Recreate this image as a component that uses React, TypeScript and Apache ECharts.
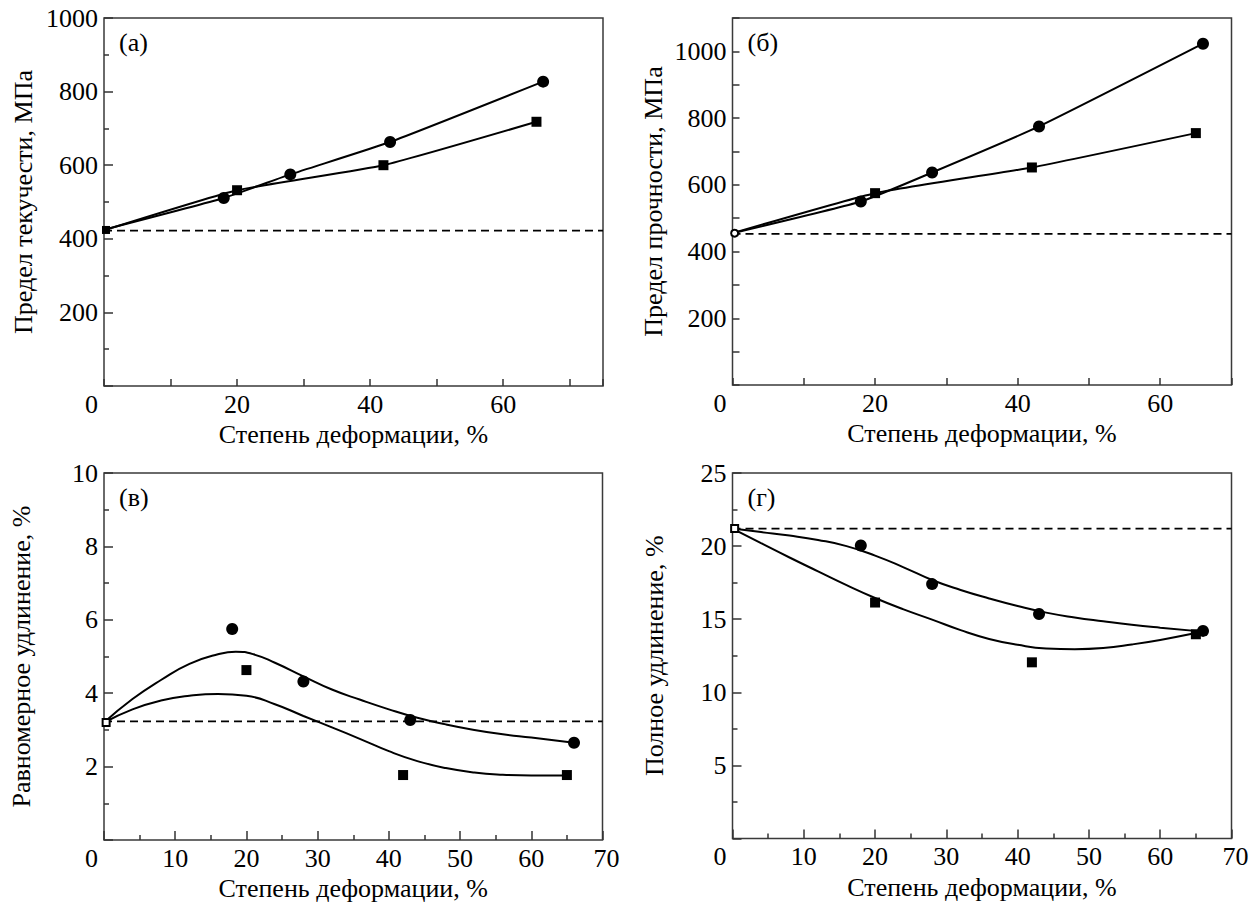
import React, { useEffect, useRef } from 'react';
import * as echarts from 'echarts';

const FONT = 'Liberation Serif';

// ---- Data ----
const X_NAME = 'Степень деформации, %';
const Y_NAMES = ['Предел текучести, МПа', 'Предел прочности, МПа', 'Равномерное удлинение, %', 'Полное удлинение, %'];
const PANEL_LABELS = ['(а)', '(б)', '(в)', '(г)'];

// (а) yield strength
const aCircX = [0, 18, 28, 43, 66];
const aCircY = [425, 511, 575, 663, 827];
const aSqX = [0, 20, 42, 65];
const aSqY = [423, 532, 600, 718];
const aInit = 424;
const aBase = 422;

// (б) ultimate strength
const bCircX = [0, 18, 28, 43, 66];
const bCircY = [455, 550, 637, 775, 1023];
const bSqX = [0, 20, 42, 65];
const bSqY = [455, 575, 652, 755];
const bInit = 455;
const bBase = 453;

// (в) uniform elongation
const vCircX = [18, 28, 43, 66];
const vCircY = [5.75, 4.32, 3.27, 2.65];
const vSqX = [20, 42, 65];
const vSqY = [4.63, 1.77, 1.77];
const vInit = 3.2;
const vBase = 3.23;
const vFitUpX = [0, 4, 8, 12, 16, 18.5, 21, 24, 28, 32, 36, 40, 44, 48, 52, 56, 60, 66];
const vFitUpY = [3.2, 3.84, 4.36, 4.8, 5.06, 5.13, 5.06, 4.83, 4.46, 4.1, 3.82, 3.56, 3.33, 3.15, 3.0, 2.88, 2.79, 2.65];
const vFitLoX = [0, 4, 8, 12, 16, 20, 24, 28, 32, 36, 40, 44, 48, 52, 56, 60, 65];
const vFitLoY = [3.2, 3.56, 3.8, 3.93, 3.98, 3.93, 3.7, 3.38, 3.07, 2.75, 2.42, 2.15, 1.96, 1.84, 1.78, 1.76, 1.76];

// (г) total elongation
const gCircX = [18, 28, 43, 66];
const gCircY = [20.04, 17.4, 15.36, 14.2];
const gSqX = [20, 42, 65];
const gSqY = [16.14, 12.05, 13.97];
const gInit = 21.2;
const gBase = 21.2;
const gFitUpX = [0, 4, 8, 12, 16, 20, 24, 28, 32, 36, 40, 44, 48, 52, 56, 60, 66];
const gFitUpY = [21.2, 20.96, 20.72, 20.42, 20.0, 19.35, 18.55, 17.68, 17.0, 16.42, 15.9, 15.45, 15.12, 14.86, 14.62, 14.42, 14.15];
const gFitLoX = [0, 4, 8, 12, 16, 20, 24, 28, 32, 36, 40, 44, 48, 52, 56, 60, 65];
const gFitLoY = [21.2, 20.2, 19.22, 18.27, 17.33, 16.45, 15.67, 14.97, 14.25, 13.65, 13.25, 13.0, 12.95, 13.03, 13.27, 13.58, 14.05];

// axis ranges and tick labels
const xMax = [75, 70, 70, 70];
const yMax = [1000, 1100, 10, 25];
const xLabelStep = [20, 20, 10, 10];
const yLabelStep = [200, 200, 2, 5];

const zip = (xs: number[], ys: number[]) => xs.map((x, i) => [x, ys[i]]);

const TICK = '#333';

function makeX(gi: number, max: number, minor: boolean) {
  return {
    type: 'value', gridIndex: gi, min: 0, max, interval: 10,
    axisLine: { show: false },
    axisLabel: { show: false },
    axisTick: { show: true, inside: true, length: minor ? 9 : 7, lineStyle: { color: TICK, width: 1.5 } },
    minorTick: { show: minor, splitNumber: 2, length: 5, lineStyle: { color: TICK, width: 1.5 } },
    splitLine: { show: false },
    minorSplitLine: { show: false },
  };
}

function makeY(gi: number, max: number, interval: number, minor: boolean) {
  return {
    type: 'value', gridIndex: gi, min: 0, max, interval,
    axisLine: { show: false },
    axisLabel: { show: false },
    axisTick: { show: true, inside: true, length: minor ? 9 : 7, lineStyle: { color: TICK, width: 1.5 } },
    minorTick: { show: minor, splitNumber: 2, length: 5, lineStyle: { color: TICK, width: 1.5 } },
    splitLine: { show: false },
    minorSplitLine: { show: false },
  };
}

function baseLine(gi: number, y: number, max: number) {
  return {
    type: 'line', xAxisIndex: gi, yAxisIndex: gi, data: [[0, y], [max, y]],
    symbol: 'none', silent: true, z: 1,
    lineStyle: { color: '#000', width: 1.8, type: [8, 5] },
  };
}

function dataLine(gi: number, data: number[][], symbol: string, size: number, smooth: number | boolean) {
  return {
    type: 'line', xAxisIndex: gi, yAxisIndex: gi,
    data: data.map((d, i) => (i === 0 ? { value: d, symbol: 'none' } : d)),
    symbol, symbolSize: size, smooth,
    showAllSymbol: true, clip: false, z: 3,
    itemStyle: { color: '#000', opacity: 1 },
    lineStyle: { color: '#000', width: 2 },
  };
}

function scatter(gi: number, data: number[][], symbol: string, size: number) {
  return {
    type: 'scatter', xAxisIndex: gi, yAxisIndex: gi, data, symbol, symbolSize: size, clip: false, z: 4,
    itemStyle: { color: '#000', opacity: 1 },
  };
}

function initPoint(gi: number, y: number, symbol: string, size: number) {
  return {
    type: 'scatter', xAxisIndex: gi, yAxisIndex: gi, data: [[0.3, y]], symbol, symbolSize: size, clip: false, z: 5,
    itemStyle: { color: '#000', borderWidth: 1.5, opacity: 1 },
  };
}

function fitLine(gi: number, data: number[][]) {
  return {
    type: 'line', xAxisIndex: gi, yAxisIndex: gi, data, symbol: 'none', smooth: 0.5, z: 2,
    lineStyle: { color: '#000', width: 2 },
  };
}

let measureCtx: CanvasRenderingContext2D | null = null;
function textWidth(text: string, size: number) {
  if (!measureCtx) measureCtx = document.createElement('canvas').getContext('2d');
  if (!measureCtx) return text.length * size * 0.5;
  measureCtx.font = `${size}px "${FONT}"`;
  return measureCtx.measureText(text).width;
}

const SIZE = 26;
const HALF = SIZE / 2;

export default function App() {
  const ref = useRef<HTMLDivElement>(null);
  useEffect(() => {
    if (!ref.current) return;
    const grids = [
      { left: 104, top: 18, width: 499, height: 368 },
      { left: 732.5, top: 18, width: 499, height: 367 },
      { left: 104, top: 473, width: 498.5, height: 367 },
      { left: 732.5, top: 473, width: 499, height: 365.5 },
    ].map((g) => ({ ...g, show: true, borderColor: '#3a3a3a', borderWidth: 1.5, backgroundColor: 'transparent', containLabel: false }));

    const option: any = {
      animation: false,
      backgroundColor: '#fff',
      grid: grids,
      xAxis: [makeX(0, xMax[0], false), makeX(1, xMax[1], false), makeX(2, xMax[2], true), makeX(3, xMax[3], true)],
      yAxis: [
        makeY(0, yMax[0], 200, true),
        makeY(1, yMax[1], 100, false),
        makeY(2, yMax[2], 2, true),
        makeY(3, yMax[3], 5, true),
      ],
      series: [
        baseLine(0, aBase, xMax[0]),
        dataLine(0, zip(aCircX, aCircY), 'circle', 12, 0.15),
        dataLine(0, zip(aSqX, aSqY), 'rect', 10, 0.15),
        initPoint(0, aInit, 'rect', 8),

        baseLine(1, bBase, xMax[1]),
        dataLine(1, zip(bCircX, bCircY), 'circle', 12, 0.15),
        dataLine(1, zip(bSqX, bSqY), 'rect', 10, 0.15),
        initPoint(1, bInit, 'emptyCircle', 7),

        baseLine(2, vBase, xMax[2]),
        fitLine(2, zip(vFitUpX, vFitUpY)),
        fitLine(2, zip(vFitLoX, vFitLoY)),
        scatter(2, zip(vCircX, vCircY), 'circle', 12),
        scatter(2, zip(vSqX, vSqY), 'rect', 10),
        initPoint(2, vInit, 'emptyRect', 7),

        baseLine(3, gBase, xMax[3]),
        fitLine(3, zip(gFitUpX, gFitUpY)),
        fitLine(3, zip(gFitLoX, gFitLoY)),
        scatter(3, zip(gCircX, gCircY), 'circle', 12),
        scatter(3, zip(gSqX, gSqY), 'rect', 10),
        initPoint(3, gInit, 'emptyRect', 7),
      ],
    };

    // 1) lay out once to read the axes' scales
    const probe = echarts.init(ref.current, undefined, { renderer: 'svg' });
    probe.setOption(option);
    const yNameOffset = [81, 79, 82.5, 78];
    const g: any[] = [];
    const st = (text: string) => ({ text, fontFamily: FONT, fontSize: SIZE, fill: '#000' });
    for (let gi = 0; gi < 4; gi++) {
      const px = (x: number, y: number) => probe.convertToPixel({ gridIndex: gi } as any, [x, y]) as number[];
      for (let v = 0; v <= xMax[gi]; v += xLabelStep[gi]) {
        const [x, y] = px(v, 0);
        const dx = v === 0 ? -12.5 : v === xMax[gi] ? 4 : 0;
        const s = String(v);
        g.push({ type: 'text', left: x + dx - textWidth(s, SIZE) / 2, top: y + 18 - HALF, style: st(s) });
      }
      for (let v = yLabelStep[gi]; v <= yMax[gi]; v += yLabelStep[gi]) {
        const [x, y] = px(0, v);
        const s = String(v);
        g.push({ type: 'text', left: x - 6 - textWidth(s, SIZE), top: y - HALF, style: st(s) });
      }
      const [cx, by] = px(xMax[gi] / 2, 0);
      g.push({ type: 'text', left: cx - textWidth(X_NAME, SIZE) / 2, top: by + 48.5 - HALF, style: st(X_NAME) });
      const [lx, cy] = px(0, yMax[gi] / 2);
      const wn = textWidth(Y_NAMES[gi], SIZE);
      g.push({ type: 'text', x: lx - yNameOffset[gi] - HALF, y: cy + wn / 2, rotation: Math.PI / 2, style: st(Y_NAMES[gi]) });
      const [tlx, tly] = px(0, yMax[gi]);
      g.push({ type: 'text', left: tlx + 15, top: tly + 24 - HALF, style: st(PANEL_LABELS[gi]) });
    }
    probe.dispose();

    // 2) final chart, everything in a single setOption
    const chart = echarts.init(ref.current, undefined, { renderer: 'svg' });
    chart.setOption({ ...option, graphic: g });

    return () => chart.dispose();
  }, []);
  return <div ref={ref} style={{ position: 'absolute', left: 0, top: 0, width: 1257, height: 906 }} />;
}
